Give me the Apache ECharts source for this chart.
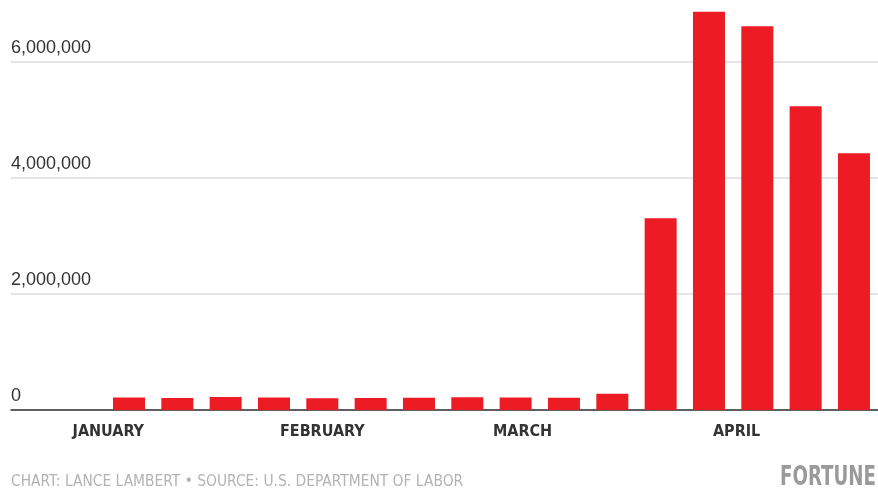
<!DOCTYPE html>
<html>
<head>
<meta charset="utf-8">
<script src="https://cdn.jsdelivr.net/npm/echarts@6/dist/echarts.min.js"></script>
<style>html,body{margin:0;padding:0;background:#fff}#c{width:878px;height:492px}</style>
</head>
<body>
<div id="c"></div>
<script>
// Weekly initial jobless claims (week ending)
const weeks = ['2020-01-04','2020-01-11','2020-01-18','2020-01-25','2020-02-01','2020-02-08','2020-02-15','2020-02-22','2020-02-29','2020-03-07','2020-03-14','2020-03-21','2020-03-28','2020-04-04','2020-04-11','2020-04-18'];
const claims = [214000,207000,223000,217000,203000,205000,211000,220000,217000,211000,282000,3307000,6867000,6615000,5237000,4427000];
const monthTicks = ['2020-01-01','2020-02-01','2020-03-01','2020-04-01'];
const monthNames = ['JANUARY','FEBRUARY','MARCH','APRIL'];
const yTicks = [0,2000000,4000000,6000000];
const footer = 'CHART: LANCE LAMBERT \u2022 SOURCE: U.S. DEPARTMENT OF LABOR';
const brand = 'FORTUNE';

const DAY = 864e5;
const origin = Date.UTC(2020,0,1);
const dayOf = s => { const [y,m,d] = s.split('-').map(Number); return Math.round((Date.UTC(y,m-1,d) - origin)/DAY); };
const monthDays = monthTicks.map(dayOf);
const chart = echarts.init(document.getElementById('c'), null, {renderer:'canvas'});
const narrow = '"Liberation Sans Narrow","DejaVu Sans Condensed",sans-serif';
chart.setOption({
  animation:false,
  title:[
    {text:footer,left:11,top:474,padding:0,textStyle:{fontFamily:narrow,fontSize:15.4,fontWeight:'normal',color:'#b3b3b3'}}
  ],
  graphic:[{
    type:'text',right:2,top:464,scaleX:0.75,
    style:{text:brand,font:'bold 27px "DejaVu Sans Condensed", sans-serif',fill:'#9a9a9a'}
  }],
  grid:{left:11,right:0,top:4,bottom:82,containLabel:false},
  xAxis:{
    type:'value',
    min:dayOf(weeks[0]) - 17.09,
    max:dayOf(weeks[weeks.length-1]) + 3.48,
    axisLine:{show:true,onZero:false,lineStyle:{color:'#333',width:1.5}},
    axisTick:{show:false},
    splitLine:{show:false},
    axisLabel:{
      customValues: monthDays,
      formatter: v => { const i = monthDays.indexOf(Math.round(v)); return i >= 0 ? monthNames[i] : ''; },
      fontFamily:narrow,fontSize:16,fontWeight:'bold',color:'#333',margin:14,
      showMinLabel:true,showMaxLabel:true
    }
  },
  yAxis:{
    type:'value',min:0,max:7000000,interval:2000000,
    axisLine:{show:false},axisTick:{show:false},
    splitLine:{showMaxLine:false,lineStyle:{color:'#dcdcdc',width:1.5}},
    axisLabel:{
      inside:true,align:'left',verticalAlign:'bottom',margin:0,padding:[0,0,5,0],
      fontFamily:'"Liberation Sans",Arial,sans-serif',fontSize:18,color:'#333',
      showMaxLabel:false,
      formatter: v => yTicks.includes(v) ? v.toLocaleString('en-US') : ''
    }
  },
  series:[{
    type:'bar',
    barWidth:32,
    data: weeks.map((w,i)=>[dayOf(w),claims[i]]),
    itemStyle:{color:'#ed1c24'}
  }]
});
</script>
</body>
</html>
